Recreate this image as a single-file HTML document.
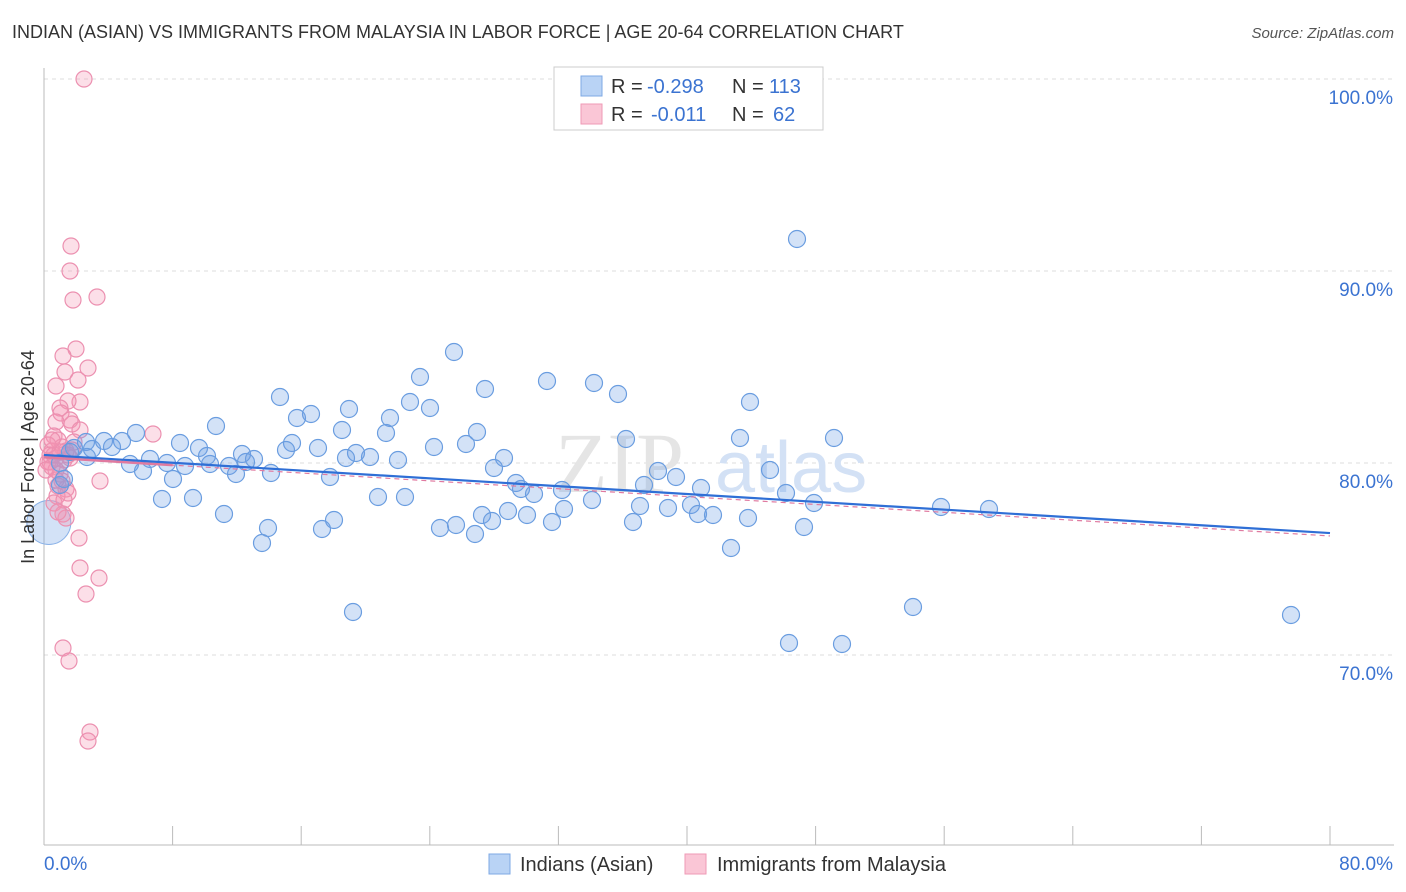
<!DOCTYPE html>
<html><head><meta charset="utf-8"><style>
body{margin:0;background:#fff;font-family:"Liberation Sans",sans-serif;}
#wrap{position:relative;width:1406px;height:892px;overflow:hidden;}
.t{position:absolute;white-space:nowrap;}
</style></head><body>
<div id="wrap">
<div class="t" style="left:12px;top:22px;font-size:18px;color:#333;">INDIAN (ASIAN) VS IMMIGRANTS FROM MALAYSIA IN LABOR FORCE | AGE 20-64 CORRELATION CHART</div>
<div class="t" style="right:12px;top:25px;font-size:15px;color:#555;font-style:italic;">Source: ZipAtlas.com</div>
<svg id="svg" width="1406" height="892" style="position:absolute;left:0;top:0;"></svg>
</div>
<script>
const yTickValues=[100,90,80,70];
const yTickLabels=["100.0%","90.0%","80.0%","70.0%"];
const xTickLabels=["0.0%","80.0%"];
// data stored as approximate pixel-read values converted to % below
const bluePx=[[797,239],[454,352],[547,381],[594,383],[420,377],[485,389],[618,394],[280,397],[750,402],[410,402],[349,409],[430,408],[311,414],[297,418],[390,418],[216,426],[342,430],[477,432],[386,433],[136,433],[626,439],[740,438],[834,438],[180,443],[122,441],[104,441],[86,442],[292,443],[466,444],[434,447],[318,448],[199,448],[112,447],[92,449],[74,448],[286,450],[356,453],[242,454],[207,456],[370,457],[346,458],[504,458],[87,457],[254,459],[150,459],[167,463],[398,460],[130,464],[60,463],[210,464],[185,466],[246,462],[229,466],[494,468],[658,471],[770,470],[143,471],[271,473],[236,474],[330,477],[173,479],[676,477],[516,483],[644,485],[60,485],[701,488],[521,489],[534,494],[562,490],[786,493],[814,503],[162,499],[193,498],[378,497],[405,497],[592,500],[564,509],[941,507],[989,509],[508,511],[482,515],[640,506],[691,505],[668,508],[698,514],[224,514],[713,515],[527,515],[334,520],[748,518],[633,522],[552,522],[492,521],[456,525],[440,528],[268,528],[322,529],[804,527],[475,534],[262,543],[731,548],[353,612],[913,607],[1291,615],[789,643],[842,644],[64,479],[70,452]];
const pinkPx=[[84,79],[71,246],[70,271],[97,297],[73,300],[76,349],[63,356],[88,368],[65,372],[78,380],[56,386],[80,402],[68,401],[60,408],[61,413],[70,420],[56,422],[72,424],[80,430],[153,434],[54,436],[58,440],[74,442],[62,447],[52,451],[66,451],[50,455],[56,458],[64,460],[70,458],[48,462],[52,467],[56,470],[60,474],[100,481],[62,481],[58,486],[66,489],[68,493],[57,496],[54,503],[63,514],[66,518],[79,538],[80,568],[99,578],[86,594],[63,648],[69,661],[90,732],[88,741],[50,462],[54,455],[60,452],[48,445],[52,440],[68,455],[72,450],[46,470],[56,480],[64,500],[58,512]];
const blueX=bluePx.map(p=>(p[0]-44)/1286*80), blueY=bluePx.map(p=>100-(p[1]-79)/19.2);
const pinkX=pinkPx.map(p=>(p[0]-44)/1286*80), pinkY=pinkPx.map(p=>100-(p[1]-79)/19.2);
const blueTrend=[80.42,76.35], pinkTrend=[80.3,76.2];
const bigBlue=[[0.3,76.9]];

const X=v=>44+v/80*1286, Y=v=>79+(100-v)*19.2;
const svg=document.getElementById('svg');
const NS='http://www.w3.org/2000/svg';
function mk(tag,attrs,name){const e=document.createElementNS(NS,tag);for(const k in attrs)e.setAttribute(k,attrs[k]);


svg.appendChild(e);return e;}
// gridlines
yTickValues.forEach((v,i)=>{mk('line',{x1:44,x2:1394,y1:Y(v),y2:Y(v),stroke:'#ddd','stroke-dasharray':'4,4'},'gridline');
const t=mk('text',{x:1393,y:Y(v)+25,'text-anchor':'end','font-size':19,fill:'#3b73d1','font-family':'Liberation Sans'},'y-tick-label');t.textContent=yTickLabels[i];});
mk('line',{x1:44,x2:44,y1:68,y2:845,stroke:'#bbb'},'y-axis');
mk('line',{x1:44,x2:1394,y1:845,y2:845,stroke:'#bbb'},'x-axis');
for(let i=0;i<=10;i++){mk('line',{x1:X(i*8),x2:X(i*8),y1:826,y2:845,stroke:'#bbb'},'x-tick');}
// watermark
let w=mk('text',{x:555,y:492,'font-size':86,fill:'#e5e5e5','font-family':'Liberation Serif'},'watermark');w.textContent='ZIP';
w=mk('text',{x:715,y:492,'font-size':72,fill:'#d3e1f5','font-family':'Liberation Sans'},'watermark-atlas');w.textContent='atlas';
bigBlue.forEach(p=>mk('circle',{cx:X(p[0]),cy:Y(p[1]),r:22,fill:'rgba(110,160,230,0.3)',stroke:'#8ab2e8'},'blue-point-large'));
pinkX.forEach((x,i)=>mk('circle',{cx:X(x),cy:Y(pinkY[i]),r:8,fill:'rgba(245,150,180,0.3)',stroke:'#ec90b0','stroke-width':1.2},'pink-point'));
blueX.forEach((x,i)=>mk('circle',{cx:X(x),cy:Y(blueY[i]),r:8.5,fill:'rgba(110,160,230,0.3)',stroke:'#6a9de0','stroke-width':1.2},'blue-point'));
mk('line',{x1:X(0),y1:Y(pinkTrend[0]),x2:X(80),y2:Y(pinkTrend[1]),stroke:'#e07aa0','stroke-width':1.2,'stroke-dasharray':'5,4'},'pink-trend-line');
mk('line',{x1:X(0),y1:Y(pinkTrend[0]),x2:X(8),y2:Y(pinkTrend[0]+(pinkTrend[1]-pinkTrend[0])/10),stroke:'#e07aa0','stroke-width':2.5},'pink-trend-solid');
mk('line',{x1:X(0),y1:Y(blueTrend[0]),x2:X(80),y2:Y(blueTrend[1]),stroke:'#2f6fd6','stroke-width':2.2},'blue-trend-line');
// x labels
let t=mk('text',{x:44,y:870,'font-size':19,fill:'#3b73d1','font-family':'Liberation Sans'},'x-tick-label');t.textContent=xTickLabels[0];
t=mk('text',{x:1393,y:870,'text-anchor':'end','font-size':19,fill:'#3b73d1','font-family':'Liberation Sans'},'x-tick-label');t.textContent=xTickLabels[1];
t=mk('text',{x:34,y:457,'text-anchor':'middle','font-size':18,fill:'#333','font-family':'Liberation Sans',transform:'rotate(-90 34 457)'},'y-axis-title');t.textContent='In Labor Force | Age 20-64';
// legend top
mk('rect',{x:554,y:67,width:269,height:63,fill:'#fff',stroke:'#ccc'},'stats-legend');
mk('rect',{x:581,y:76,width:21,height:20,fill:'#b9d3f5',stroke:'#7ea8e4'},'stats-swatch-blue');
mk('rect',{x:581,y:104,width:21,height:20,fill:'#fac6d6',stroke:'#ef9ab6'},'stats-swatch-pink');
function tx(x,y,s,c,n){const e=mk('text',{x:x,y:y,'font-size':20,fill:c,'font-family':'Liberation Sans'},n);e.textContent=s;}
tx(611,93,'R =','#333','stats-r-label');tx(647,93,'-0.298','#3b73d1','stats-r-blue');tx(732,93,'N =','#333','stats-n-label');tx(769,93,'113','#3b73d1','stats-n-blue');
tx(611,121,'R =','#333','stats-r-label');tx(651,121,'-0.011','#3b73d1','stats-r-pink');tx(732,121,'N =','#333','stats-n-label');tx(773,121,'62','#3b73d1','stats-n-pink');
// bottom legend
mk('rect',{x:489,y:854,width:21,height:20,fill:'#b9d3f5',stroke:'#7ea8e4'},'legend-swatch-indians');
tx(520,871,'Indians (Asian)','#333','legend-label-indians');
mk('rect',{x:685,y:854,width:21,height:20,fill:'#fac6d6',stroke:'#ef9ab6'},'legend-swatch-malaysia');
tx(717,871,'Immigrants from Malaysia','#333','legend-label-malaysia');
</script>
</body></html>
